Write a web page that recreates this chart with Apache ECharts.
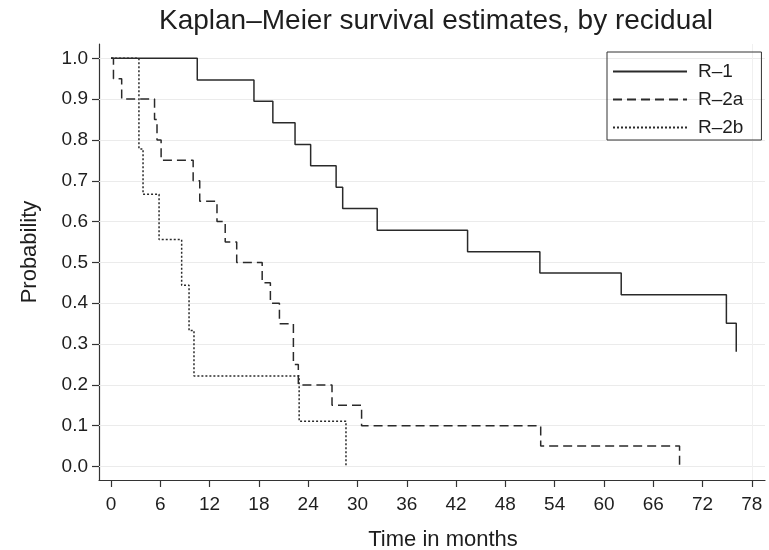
<!DOCTYPE html>
<html>
<head>
<meta charset="utf-8">
<script src="https://cdn.jsdelivr.net/npm/echarts@6/dist/echarts.min.js"></script>
<style>html,body{margin:0;padding:0;background:#fff}#c{width:769px;height:550px}</style>
</head>
<body>
<div id="c"></div>
<script>
// Kaplan–Meier step data (time in months, survival probability after event)
const timeR1  = [0, 10.5, 17.4, 19.7, 22.4, 24.3, 27.4, 28.2, 32.4, 43.4, 52.2, 62.1, 74.9, 76.1];
const survR1  = [1, 0.947, 0.895, 0.842, 0.789, 0.737, 0.684, 0.632, 0.579, 0.526, 0.474, 0.421, 0.351, 0.281];
const timeR2a = [0, 0.3, 1.3, 5.3, 5.6, 6.1, 10.0, 10.8, 12.9, 13.9, 15.3, 18.4, 19.4, 20.5, 22.2, 22.8, 26.9, 30.5, 52.3, 69.2];
const survR2a = [1, 0.95, 0.90, 0.85, 0.80, 0.75, 0.70, 0.65, 0.60, 0.55, 0.50, 0.45, 0.40, 0.35, 0.25, 0.20, 0.15, 0.10, 0.05, 0];
const timeR2b = [0, 3.4, 3.9, 5.85, 8.6, 9.5, 10.1, 22.9, 28.6];
const survR2b = [1, 0.778, 0.667, 0.556, 0.444, 0.333, 0.222, 0.111, 0];

const seriesNames = ['R\u20131', 'R\u20132a', 'R\u20132b'];
const xTicks = [0, 6, 12, 18, 24, 30, 36, 42, 48, 54, 60, 66, 72, 78];
const yTicks = [0, 0.1, 0.2, 0.3, 0.4, 0.5, 0.6, 0.7, 0.8, 0.9, 1.0];

const zip = (t, s) => t.map((v, i) => [v, s[i]]);
const FONT = '"Liberation Sans", Arial, Helvetica, sans-serif';
const INK = '#1e1e1e';
const LINE = '#2a2a2a';

const chart = echarts.init(document.getElementById('c'), null, {renderer: 'canvas'});
chart.setOption({
  animation: false,
  backgroundColor: '#fff',
  textStyle: {fontFamily: FONT, color: INK},
  title: {
    text: 'Kaplan\u2013Meier survival estimates, by recidual',
    left: 431, textAlign: 'center', top: 2,
    textStyle: {fontFamily: FONT, fontSize: 28, fontWeight: 'normal', color: INK}
  },
  legend: {
    orient: 'vertical', left: 607, top: 52,
    padding: [10, 18, 3, 5],
    borderColor: '#333', borderWidth: 1,
    itemWidth: 74, itemHeight: 14, itemGap: 9,
    itemStyle: {color: 'transparent', borderColor: 'transparent', borderWidth: 0, opacity: 0},
    textStyle: {fontFamily: FONT, fontSize: 19, color: INK, padding: [0, 0, 0, 6]},
    data: seriesNames
  },
  grid: {left: 99, right: 4, top: 44, bottom: 70, containLabel: false, outerBoundsMode: 'none'},
  xAxis: {
    type: 'value', min: -1.46, max: 79.6,
    name: 'Time in months', nameLocation: 'middle', nameGap: 49,
    nameTextStyle: {fontFamily: FONT, fontSize: 22, color: INK, padding: [0, 0, 0, 22]},
    axisLine: {show: true, onZero: false, lineStyle: {color: '#333', width: 1.2}},
    axisTick: {show: true, customValues: xTicks, length: 7, lineStyle: {color: '#333', width: 1.2}},
    axisLabel: {customValues: xTicks, fontSize: 19, color: INK, margin: 15, fontFamily: FONT},
    splitLine: {show: false}
  },
  yAxis: {
    type: 'value', min: -0.033, max: 1.035,
    name: 'Probability', nameLocation: 'middle', nameRotate: 90, nameGap: 58,
    nameTextStyle: {fontFamily: FONT, fontSize: 22, color: INK, padding: [0, 0, 0, 20]},
    axisLine: {show: true, onZero: false, lineStyle: {color: '#333', width: 1.2}},
    axisTick: {show: true, customValues: yTicks, length: 7, lineStyle: {color: '#333', width: 1.2}},
    axisLabel: {customValues: yTicks, fontSize: 19, color: INK, margin: 11, fontFamily: FONT,
                formatter: v => Number(v).toFixed(1)},
    splitLine: {show: false}
  },
  series: [
    {
      name: 'grid', type: 'line', data: [], silent: true, z: 1,
      markLine: {
        silent: true, symbol: 'none', label: {show: false}, z: 1,
        lineStyle: {color: '#ebebeb', width: 1.2, type: 'solid'},
        data: yTicks.map(v => ({yAxis: v})).concat([{xAxis: 78, lineStyle: {color: '#f0f0f0', width: 1}}])
      }
    },
    {
      name: seriesNames[0], type: 'line', step: 'end', symbol: 'none', z: 3,
      lineStyle: {color: LINE, width: 1.5, type: 'solid'},
      itemStyle: {color: LINE},
      data: zip(timeR1, survR1)
    },
    {
      name: seriesNames[1], type: 'line', step: 'end', symbol: 'none', z: 3,
      lineStyle: {color: LINE, width: 1.5, type: [9, 5]},
      itemStyle: {color: LINE},
      data: zip(timeR2a, survR2a)
    },
    {
      name: seriesNames[2], type: 'line', step: 'end', symbol: 'none', z: 3,
      lineStyle: {color: LINE, width: 1.5, type: [2, 2]},
      itemStyle: {color: LINE},
      data: zip(timeR2b, survR2b)
    }
  ]
});
</script>
</body>
</html>
